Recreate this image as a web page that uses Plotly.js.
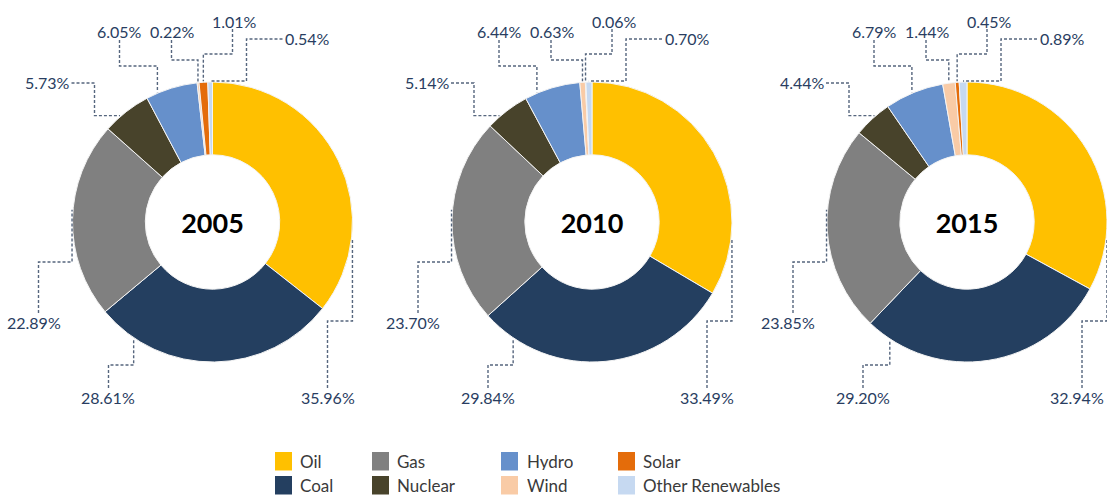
<!DOCTYPE html>
<html>
<head>
<meta charset="utf-8">
<script src="https://cdn.plot.ly/plotly-3.0.1.min.js"></script>
<style>
  html, body { margin: 0; padding: 0; background: #ffffff; }
  #chart { width: 1107px; height: 495px; }
</style>
</head>
<body>
<div id="chart"></div>
<script>
// ---------------- data ----------------
const years = ['2005', '2010', '2015'];
const categories = ['Oil', 'Coal', 'Gas', 'Nuclear', 'Hydro', 'Wind', 'Solar', 'Other Renewables'];
const share2005 = [35.96, 28.61, 22.89, 5.73, 6.05, 0.22, 1.01, 0.54];
const share2010 = [33.49, 29.84, 23.70, 5.14, 6.44, 0.63, 0.06, 0.70];
const share2015 = [32.94, 29.20, 23.85, 4.44, 6.79, 1.44, 0.45, 0.89];
const sliceColors = ['#FFC000', '#243F60', '#808080', '#48432B', '#6690CB', '#F9CBA6', '#E46C0A', '#C6D9F1'];

// ---------------- layout constants ----------------
const W = 1107, H = 495;
const centersX = [212.5, 592, 967];
const centerY = 222;
const R = 140;
const FONT = 'Lato, "Open Sans", sans-serif';
const labelColor = '#293D61';
const leaderColor = '#56667E';

// label placement template (pixel offsets from each donut centre)
// type 'v': conn -> (conn.x, m) -> (anchor.x, m) -> anchor
// type 'h': conn -> (m, conn.y) -> (m, anchor.y) -> anchor
const labelTemplate = [
  {tx: 115,   ty: 175,  type: 'v', cx: 115,  cy: 166,  m: 99,   target: 97},
  {tx: -104.5,ty: 175,  type: 'v', cx: -104, cy: 166,  m: 143,  target: 214},
  {tx: -179,  ty: 100,  type: 'v', cx: -174, cy: 91,   m: 40,   target: 275},
  {tx: -165,  ty: -139, type: 'h', cx: -141, cy: -139, m: -118, target: 319},
  {tx: -93,   ty: -190, type: 'v', cx: -93,  cy: -182, m: -156, target: 337},
  {tx: -40,   ty: -190, type: 'v', cx: -41,  cy: -182, m: -162, target: null},
  {tx: 22,    ty: -201, type: 'v', cx: 20,   cy: -193, m: -168, target: null},
  {tx: 95,    ty: -183, type: 'h', cx: 70,   cy: -183, m: 34,   target: null}
];

const allShares = [share2005, share2010, share2015];

const px2x = px => px / W;
const py2y = py => 1 - py / H;

const traces = [];
const shapes = [];
const annotations = [];

allShares.forEach((vals, k) => {
  const cx = centersX[k];
  traces.push({
    type: 'pie',
    name: years[k],
    labels: categories,
    values: vals,
    sort: false,
    direction: 'clockwise',
    rotation: 0,
    hole: 0.48,
    textinfo: 'none',
    hoverinfo: 'label+value',
    showlegend: false,
    marker: {colors: sliceColors, line: {color: '#F4F4F4', width: 1}},
    domain: {
      x: [px2x(cx - R), Math.min(1, px2x(cx + R))],
      y: [py2y(centerY + R), py2y(centerY - R)]
    },
    title: {text: years[k], position: 'middle center',
            font: {family: FONT, size: 27, color: '#000000', weight: 'bold'}}
  });

  // slice angles from data
  const total = vals.reduce((a, b) => a + b, 0);
  let cum = 0;
  vals.forEach((v, i) => {
    const start = cum / total * 360;
    cum += v;
    const end = cum / total * 360;
    const t = labelTemplate[i];
    let ang;
    if (t.target === null) {
      ang = (start + end) / 2;
    } else {
      const pad = (end - start) * 0.1;
      ang = Math.max(start + pad, Math.min(end - pad, t.target));
    }
    const rad = ang * Math.PI / 180;
    const ax = cx + (R + 1) * Math.sin(rad);
    const ay = centerY - (R + 1) * Math.cos(rad);
    const c1x = cx + t.cx, c1y = centerY + t.cy;
    let pts;
    if (t.type === 'v') {
      const my = centerY + t.m;
      pts = [[c1x, c1y], [c1x, my], [ax, my], [ax, ay]];
    } else {
      const mx = cx + t.m;
      pts = [[c1x, c1y], [mx, c1y], [mx, ay], [ax, ay]];
    }
    const path = pts.map((p, j) => (j === 0 ? 'M' : 'L') + px2x(p[0]).toFixed(5) + ',' + py2y(p[1]).toFixed(5)).join(' ');
    shapes.push({
      type: 'path', xref: 'paper', yref: 'paper', path: path,
      line: {color: leaderColor, width: 1.4, dash: '3px,2px'}
    });
    // keep labels inside the canvas
    let lx = cx + t.tx, anchorX = 'center';
    if (lx + 28 > W) { lx = W - 1; anchorX = 'right'; }
    annotations.push({
      xref: 'paper', yref: 'paper',
      x: px2x(lx), y: py2y(centerY + t.ty),
      xanchor: anchorX, yanchor: 'middle',
      text: v.toFixed(2) + '%', showarrow: false,
      font: {family: FONT, size: 16, color: labelColor}
    });
  });
});

// ---------------- legend (4 columns x 2 rows, column-major) ----------------
const legSwatchX = [275, 372, 501, 618];
const legTextX = [298, 395, 525, 641];
const legRowY = [461, 485];
categories.forEach((name, i) => {
  const col = Math.floor(i / 2), row = i % 2;
  const yC = legRowY[row];
  shapes.push({
    type: 'rect', xref: 'paper', yref: 'paper',
    x0: px2x(legSwatchX[col]), x1: px2x(legSwatchX[col] + 17),
    y0: py2y(yC + 9.5), y1: py2y(yC - 9),
    fillcolor: sliceColors[i], line: {width: 0}
  });
  annotations.push({
    xref: 'paper', yref: 'paper',
    x: px2x(legTextX[col]), y: py2y(yC),
    xanchor: 'left', yanchor: 'middle',
    height: 18, valign: 'middle',
    text: name, showarrow: false,
    font: {family: FONT, size: 17, color: '#3A3A3A'}
  });
});

const layout = {
  width: W, height: H,
  margin: {l: 0, r: 0, t: 0, b: 0, pad: 0},
  paper_bgcolor: '#ffffff',
  plot_bgcolor: '#ffffff',
  showlegend: false,
  shapes: shapes,
  annotations: annotations
};

Plotly.newPlot('chart', traces, layout, {displayModeBar: false, staticPlot: true});
</script>
</body>
</html>
